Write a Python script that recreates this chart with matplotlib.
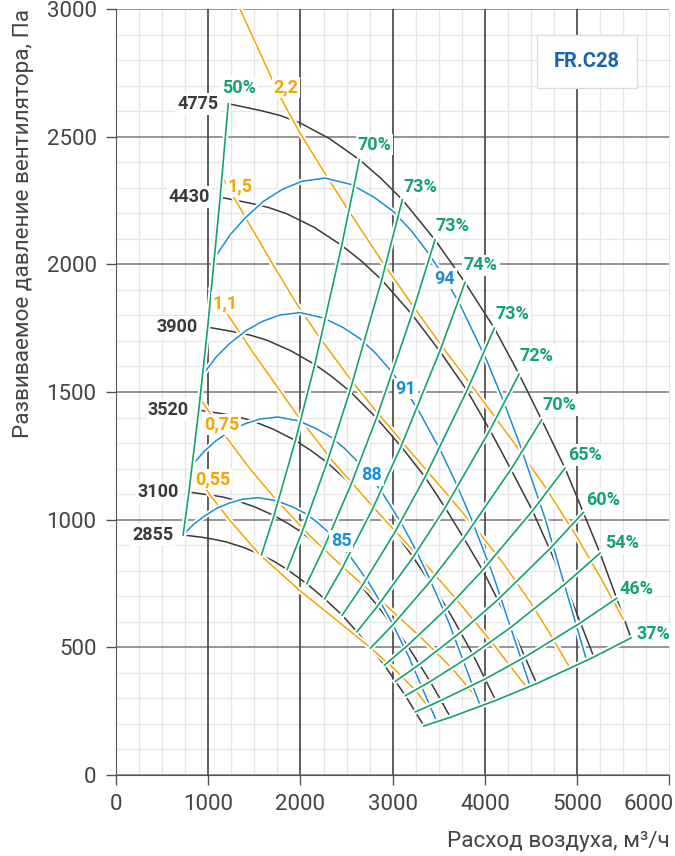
# Fan performance chart FR.C28 (pressure vs air flow)

import matplotlib
matplotlib.use('Agg')
import matplotlib.pyplot as plt
import matplotlib.patheffects as pe
import matplotlib.transforms as mtrans
from matplotlib.patches import Rectangle
import numpy as np

plt.rcParams['font.family'] = ['Roboto', 'DejaVu Sans']

# fan speed curves, rpm; one row per speed, columns are the same duty points
speeds = ['4775', '4430', '3900', '3520', '3100', '2855']
fan_q = [
    [1217, 1561, 1778, 1995, 2316, 2638, 2871, 3104, 3458, 3783, 4101, 4369, 4614, 4867, 5066, 5247, 5427, 5583],
    [1129, 1448, 1650, 1851, 2149, 2447, 2664, 2880, 3208, 3510, 3805, 4053, 4281, 4515, 4700, 4868, 5035, 5180],
    [994, 1275, 1452, 1629, 1892, 2155, 2345, 2535, 2824, 3090, 3350, 3568, 3769, 3975, 4138, 4286, 4433, 4560],
    [897, 1151, 1311, 1471, 1707, 1945, 2116, 2288, 2549, 2789, 3023, 3221, 3401, 3588, 3735, 3868, 4001, 4116],
    [790, 1013, 1154, 1295, 1504, 1713, 1864, 2015, 2245, 2456, 2662, 2836, 2995, 3160, 3289, 3406, 3523, 3625],
    [728, 933, 1063, 1193, 1385, 1577, 1717, 1856, 2068, 2262, 2452, 2612, 2759, 2910, 3029, 3137, 3245, 3338],
]
fan_p = [
    [2629, 2603, 2583, 2554, 2492, 2410, 2337, 2253, 2096, 1929, 1750, 1570, 1391, 1202, 1028, 869, 692, 537],
    [2263, 2240, 2223, 2198, 2145, 2074, 2012, 1939, 1804, 1660, 1506, 1351, 1197, 1035, 885, 748, 596, 462],
    [1754, 1736, 1723, 1704, 1662, 1608, 1559, 1503, 1398, 1287, 1167, 1047, 928, 802, 686, 580, 462, 358],
    [1429, 1415, 1404, 1388, 1354, 1310, 1270, 1224, 1139, 1048, 951, 853, 756, 653, 559, 472, 376, 292],
    [1108, 1097, 1089, 1076, 1050, 1016, 985, 950, 883, 813, 738, 662, 586, 507, 433, 366, 292, 226],
    [940, 931, 923, 913, 891, 862, 836, 805, 749, 690, 626, 561, 497, 430, 367, 311, 247, 192],
]

# efficiency lines join the same column across all speeds
eff_cols = [0, 5, 7, 8, 9, 10, 11, 12, 13, 14, 15, 16, 17]
eff_labels = ['50%', '70%', '73%', '73%', '74%', '73%', '72%', '70%', '65%', '60%', '54%', '46%', '37%']
eff_offsets = [(11, 16), (15, 15), (18, 13), (17, 14), (16, 17), (18, 14), (17, 18),
               (18, 15), (20, 13), (20, 13), (22, 10), (20, 9), (22, 4)]

# noise level curves, dB(A)
noise_labels = ['94', '91', '88', '85']
noise_q = [
    [1084, 1236, 1400, 1600, 1800, 2013, 2266, 2555, 2800, 3006, 3200, 3386, 3560, 3729, 4011, 4200, 4379, 4650, 4867, 5103],
    [954, 1088, 1232, 1408, 1584, 1771, 1994, 2248, 2464, 2645, 2816, 2980, 3133, 3282, 3530, 3696, 3854, 4092, 4283, 4491],
    [839, 957, 1084, 1239, 1394, 1559, 1755, 1979, 2168, 2328, 2478, 2622, 2757, 2888, 3106, 3253, 3391, 3601, 3769, 3952],
    [739, 842, 954, 1090, 1227, 1372, 1544, 1741, 1908, 2049, 2181, 2308, 2426, 2541, 2733, 2862, 2984, 3169, 3317, 3478],
]
noise_p = [
    [2033, 2115, 2182, 2247, 2293, 2325, 2338, 2312, 2262, 2207, 2132, 2044, 1949, 1842, 1630, 1465, 1293, 1006, 738, 447],
    [1574, 1638, 1690, 1740, 1776, 1801, 1811, 1790, 1752, 1709, 1651, 1583, 1509, 1426, 1262, 1135, 1001, 779, 572, 346],
    [1219, 1268, 1309, 1348, 1375, 1394, 1402, 1387, 1357, 1324, 1279, 1226, 1169, 1105, 978, 879, 775, 603, 443, 268],
    [944, 982, 1013, 1044, 1065, 1080, 1086, 1074, 1051, 1025, 990, 949, 905, 855, 757, 680, 601, 467, 343, 208],
]
noise_label_pos = [(3566, 1944), (3144, 1513), (2775, 1176), (2439, 917)]

# motor power lines, kW
power_labels = ['2,2', '1,5', '1,1', '0,75', '0,55']
power_q = [
    [1344, 1778, 1995, 2284, 2537, 2862, 3223, 3585, 3946, 4300, 4650, 4993, 5250, 5498],
    [1148, 1417, 1669, 1940, 2176, 2537, 2790, 3133, 3602, 3900, 4200, 4500, 4700, 4921],
    [1033, 1200, 1500, 1958, 2350, 2753, 2935, 3300, 3700, 4100, 4441],
    [936, 1163, 1450, 1705, 2100, 2500, 2900, 3300, 3650, 3971],
    [856, 1001, 1236, 1561, 2000, 2400, 2753, 3000, 3250, 3494],
]
power_p = [
    [3000, 2657, 2514, 2345, 2202, 2023, 1835, 1654, 1481, 1308, 1130, 934, 775, 611],
    [2344, 2175, 2019, 1856, 1729, 1552, 1438, 1291, 1094, 966, 828, 672, 556, 419],
    [1903, 1809, 1647, 1413, 1229, 1064, 991, 848, 684, 508, 348],
    [1463, 1339, 1200, 1091, 937, 801, 673, 541, 415, 277],
    [1189, 1106, 996, 862, 720, 604, 500, 421, 330, 218],
]
power_label_offsets = [None, (18, -10), (14, -14), (19, -23), (18, -8)]
power_label_top = (1843, 2692)

BLACK = '#3a3a3a'
GREEN = '#14a36c'
ORANGE = '#f5a400'
BLUE = '#1a8dd6'
TXT = '#444444'
LFS = 13

fig = plt.figure(figsize=(6.75, 8.56), dpi=100)
ax = fig.add_axes([116 / 675, 81 / 856, 553.5 / 675, 766 / 856])
ax.set_xlim(0, 6000)
ax.set_ylim(0, 3000)

# grid
ax.set_xticks(np.arange(0, 6001, 250), minor=True)
ax.set_yticks(np.arange(0, 3001, 100), minor=True)
ax.grid(which='minor', color='#e6e6e6', lw=1.0, zorder=0)
ax.grid(which='major', axis='y', color='#8c8c8c', lw=1.3, zorder=1)
for xv in [1000, 2000, 3000, 4000, 5000]:
    ax.axvline(xv, color='#505050', lw=1.3, zorder=1)
ax.set_axisbelow(True)

ax.set_xticks([0, 1000, 2000, 3000, 4000, 5000, 6000])
ax.set_yticks([0, 500, 1000, 1500, 2000, 2500, 3000])
ax.tick_params(which='major', length=7, width=1, color='#555555', labelsize=16,
               labelcolor=TXT, pad=7)
ax.tick_params(which='minor', length=0)
last = ax.get_xticklabels()[-1]
last.set_horizontalalignment('right')
last.set_transform(last.get_transform() + mtrans.ScaledTranslation(4 / 100, 0, fig.dpi_scale_trans))
ax.spines['top'].set_visible(False)
ax.spines['right'].set_color('#e3e3e3')
ax.spines['left'].set_color('#555555')
ax.spines['bottom'].set_color('#555555')

halo = [pe.withStroke(linewidth=4, foreground='white')]
lbox = dict(boxstyle='square,pad=0.1', fc='white', ec='none')

# speed curves
for name, q, p in zip(speeds, fan_q, fan_p):
    ax.plot(q, p, color=BLACK, lw=1.1, zorder=3)
    ax.annotate(name, (q[0], p[0]), xytext=(-10, 0), textcoords='offset pixels',
                ha='right', va='center', fontsize=LFS, fontweight='bold',
                color=BLACK, zorder=8, bbox=lbox)

# power lines
for i, (lab, q, p) in enumerate(zip(power_labels, power_q, power_p)):
    ax.plot(q, p, color=ORANGE, lw=1.1, zorder=4, path_effects=halo)
    if power_label_offsets[i] is None:
        ax.text(power_label_top[0], power_label_top[1], lab, ha='center', va='center',
                fontsize=LFS, fontweight='bold', color=ORANGE, zorder=8, bbox=lbox)
    else:
        ax.annotate(lab, (q[0], p[0]), xytext=power_label_offsets[i],
                    textcoords='offset pixels', ha='center', va='center',
                    fontsize=LFS, fontweight='bold', color=ORANGE, zorder=8, bbox=lbox)

# noise curves
for lab, q, p, pos in zip(noise_labels, noise_q, noise_p, noise_label_pos):
    ax.plot(q, p, color=BLUE, lw=1.1, zorder=5, path_effects=halo)
    ax.text(pos[0], pos[1], lab, ha='center', va='center', fontsize=LFS,
            fontweight='bold', color=BLUE, zorder=8, bbox=lbox)

# efficiency lines
for col, lab, off in zip(eff_cols, eff_labels, eff_offsets):
    q = [row[col] for row in fan_q]
    p = [row[col] for row in fan_p]
    ax.plot(q, p, color=GREEN, lw=1.2, zorder=6, path_effects=halo)
    ax.annotate(lab, (q[0], p[0]), xytext=off, textcoords='offset pixels',
                ha='center', va='center', fontsize=LFS, fontweight='bold',
                color=GREEN, zorder=9, bbox=lbox)

# model box
ax.add_patch(Rectangle((4564, 2692), 1084, 208, fc='white', ec='#dddddd', lw=1, zorder=7))
ax.text(5106, 2796, 'FR.C28', ha='center', va='center', fontsize=14.5,
        fontweight='bold', color='#1a64ad', zorder=8)

ax.set_xlabel('Расход воздуха, м³/ч', fontsize=16.2, color=TXT, loc='right', labelpad=11)
ax.set_ylabel('Развиваемое давление вентилятора, Па', fontsize=16.2, color=TXT,
              loc='top', labelpad=9)

fig.savefig('out.png', dpi=100)
